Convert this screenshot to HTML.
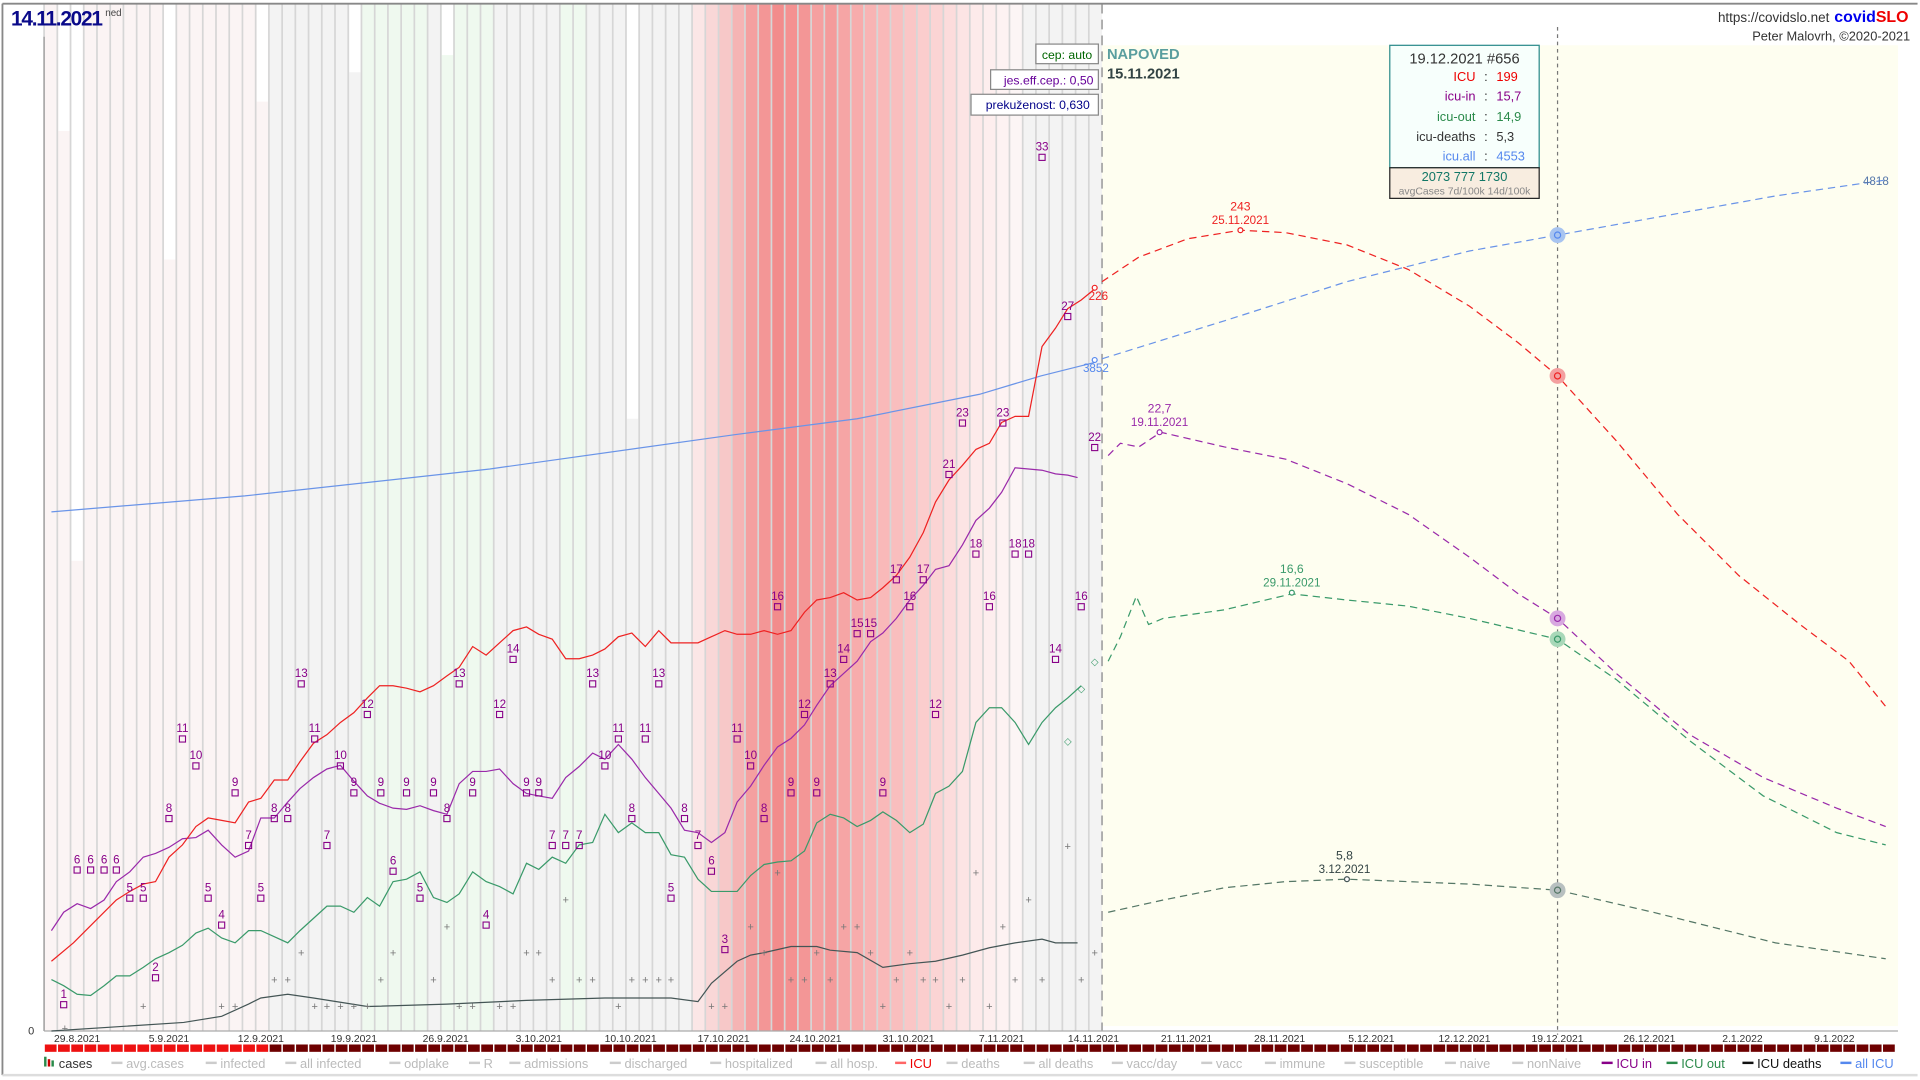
<!DOCTYPE html>
<html><head><meta charset="utf-8"><style>
html,body{margin:0;padding:0;background:#fff;overflow:hidden}
svg{display:block}
text{font-family:"Liberation Sans",sans-serif}
</style></head><body>
<svg id="s" width="1920" height="1080" viewBox="0 0 1568 882" xmlns="http://www.w3.org/2000/svg">
<rect x="0" y="0" width="1568" height="882" fill="#fff"/>
<g id="bars"></g>
<rect x="900" y="37" width="650" height="801" fill="#fefef0"/>
<line x1="900" y1="3" x2="900" y2="842" stroke="#aaa" stroke-width="1.5" stroke-dasharray="8,5"/>
<line x1="1272" y1="22" x2="1272" y2="845" stroke="#777" stroke-width="1" stroke-dasharray="3,3"/>
<line x1="2" y1="3" x2="1566" y2="3" stroke="#888" stroke-width="1.5"/>
<line x1="2" y1="3" x2="2" y2="878" stroke="#888" stroke-width="1.5"/>
<line x1="36" y1="30" x2="36" y2="842" stroke="#999" stroke-width="1"/>
<line x1="36" y1="842" x2="1550" y2="842" stroke="#aaa" stroke-width="1"/>
<g id="lines"></g>
<g id="marks"></g>
<text x="28" y="845" font-size="9" fill="#333" text-anchor="end">0</text>
<text x="9" y="21" font-size="17" font-weight="bold" fill="#0a0a8a" letter-spacing="-1">14.11.2021</text>
<text x="86" y="13" font-size="8" fill="#444">ned</text>
<text x="1494" y="18" font-size="11" fill="#333" text-anchor="end">https://covidslo.net</text>
<text x="1498" y="18" font-size="13" font-weight="bold" fill="#0000ee">covid<tspan fill="#ee0000">SLO</tspan></text>
<text x="1560" y="33" font-size="10.5" fill="#333" text-anchor="end">Peter Malovrh, ©2020-2021</text>
<rect x="846" y="36" width="51" height="16" fill="#fff" stroke="#888"/>
<text x="892" y="48" font-size="10" fill="#006600" text-anchor="end">cep: auto</text>
<rect x="809" y="57" width="88" height="16" fill="#fff" stroke="#888"/>
<text x="893" y="69" font-size="10" fill="#660099" text-anchor="end">jes.eff.cep.: 0,50</text>
<rect x="793" y="77" width="104" height="17" fill="#fff" stroke="#888"/>
<text x="890" y="89" font-size="10" fill="#000088" text-anchor="end">prekuženost: 0,630</text>
<text x="904" y="48" font-size="12" font-weight="bold" fill="#5a9e9e">NAPOVED</text>
<text x="904" y="64" font-size="12" font-weight="bold" fill="#334444">15.11.2021</text>
<rect x="1135" y="37" width="122" height="100" fill="#f7fffc" stroke="#2a8a8a"/>
<rect x="1135" y="137" width="122" height="25" fill="#f8ede0" stroke="#222"/>
<text x="1196" y="52" font-size="12" fill="#333" text-anchor="middle">19.12.2021 #656</text>
<g font-size="10.5">
<text x="1205" y="66" fill="#ee0000" text-anchor="end">ICU</text><text x="1212" y="66" fill="#333">:</text><text x="1222" y="66" fill="#ee0000">199</text>
<text x="1205" y="82" fill="#880088" text-anchor="end">icu-in</text><text x="1212" y="82" fill="#333">:</text><text x="1222" y="82" fill="#880088">15,7</text>
<text x="1205" y="99" fill="#2a8a4a" text-anchor="end">icu-out</text><text x="1212" y="99" fill="#333">:</text><text x="1222" y="99" fill="#2a8a4a">14,9</text>
<text x="1205" y="115" fill="#333" text-anchor="end">icu-deaths</text><text x="1212" y="115" fill="#333">:</text><text x="1222" y="115" fill="#333">5,3</text>
<text x="1205" y="131" fill="#5588ee" text-anchor="end">icu.all</text><text x="1212" y="131" fill="#333">:</text><text x="1222" y="131" fill="#5588ee">4553</text>
</g>
<text x="1196" y="148" font-size="10.5" fill="#117766" text-anchor="middle">2073  777  1730</text>
<text x="1196" y="159" font-size="8.5" fill="#888" text-anchor="middle">avgCases 7d/100k 14d/100k</text>
<g id="axis"></g>
<g id="legend" font-size="10.5"></g>
<line x1="2" y1="878" x2="1566" y2="878" stroke="#ddd" stroke-width="2"/>
</svg>
<script>
var NS="http://www.w3.org/2000/svg";
function el(p,t,a,txt){var e=document.createElementNS(NS,t);for(var k in a)e.setAttribute(k,a[k]);if(txt!==undefined)e.textContent=txt;document.getElementById(p).appendChild(e);return e;}
var D=10.8,X0=36;
function bg(i){
 if(i<=16) return "#fbf4f4";
 if(i<=23) return "#f3f3f3";
 if(i<=33) return (i==29?"#f3f3f3":"#eff9ef");
 if(i<=48) return (i==39||i==40?"#eff9ef":"#f3f3f3");
 if(i<=73){
  var c=[[251,230,230],[249,215,215],[247,200,200],[245,180,180],[244,160,160],[243,150,150],[242,140,140],[244,145,145],[243,150,150],[245,160,160],[244,155,155],[246,165,165],[247,172,172],[248,180,180],[249,185,185],[249,190,190],[250,198,198],[251,205,205],[251,212,212],[252,220,220],[252,228,228],[253,234,234],[253,238,238],[253,242,242],[252,245,245]][i-49];
  return "rgb("+c.join(",")+")";
 }
 return "#f3f3f3";
}
var white={1:107,2:458,9:212,16:83,23:59,30:45,44:342};
for(var i=0;i<80;i++){
 var x=X0+i*D;
 el("bars","rect",{x:x,y:3,width:D,height:839,fill:bg(i)});
 if(white[i]) el("bars","rect",{x:x+0.8,y:3,width:D-1.6,height:white[i]-3,fill:"#fff"});
 el("bars","line",{x1:x,y1:3,x2:x,y2:842,stroke:"#d6d6d6","stroke-width":1.4});
}
// bottom strip
for(var i=0;i<140;i++){var x=X0+i*D;if(x>1545)break;
 el("axis","rect",{x:x+0.6,y:853,width:D-1.2,height:6,fill:i<17?"#ee1111":"#6e0000"});}
var dates=[[63,"29.8.2021"],[138,"5.9.2021"],[213,"12.9.2021"],[289,"19.9.2021"],[364,"26.9.2021"],[440,"3.10.2021"],[515,"10.10.2021"],[591,"17.10.2021"],[666,"24.10.2021"],[742,"31.10.2021"],[818,"7.11.2021"],[893,"14.11.2021"],[969,"21.11.2021"],[1045,"28.11.2021"],[1120,"5.12.2021"],[1196,"12.12.2021"],[1272,"19.12.2021"],[1347,"26.12.2021"],[1423,"2.1.2022"],[1498,"9.1.2022"]];
dates.forEach(function(d){el("axis","text",{x:d[0],y:851,"font-size":8.5,fill:"#333","text-anchor":"middle"},d[1]);});
function pl(pts,col,w,dash){var a={points:pts.map(function(p){return p.join(",")}).join(" "),fill:"none",stroke:col,"stroke-width":w};if(dash)a["stroke-dasharray"]=dash;el("lines","polyline",a);}
pl([[42,418],[200,405],[400,383],[600,355],[700,342],[800,322],[850,307],[894,296]],"#6a94e8",1);
pl([[42,842],[150,835],[181,830],[203,820],[213,815],[235,812],[256,815],[300,822],[365,820],[430,817],[494,815],[548,815],[570,818],[581,803],[602,785],[613,780],[624,778],[646,773],[667,773],[678,776],[700,778],[721,790],[743,787],[764,785],[786,780],[808,774],[829,770],[851,767],[862,770],[880,770]],"#445555",1);
pl([[42,800],[52,805],[63,812],[74,813],[85,805],[95,797],[106,797],[117,790],[127,783],[138,778],[149,772],[160,762],[170,758],[181,766],[192,770],[203,760],[213,760],[224,765],[235,770],[245,760],[256,750],[267,740],[278,740],[289,745],[300,733],[310,740],[321,720],[332,718],[343,712],[354,733],[365,737],[375,730],[386,712],[397,720],[408,724],[419,730],[430,705],[440,710],[451,700],[462,705],[473,690],[484,688],[494,665],[505,680],[516,672],[527,680],[538,680],[548,698],[559,700],[570,718],[581,728],[592,728],[602,728],[613,715],[624,706],[635,704],[646,703],[657,695],[667,672],[678,665],[689,668],[700,675],[711,670],[721,663],[732,670],[743,680],[754,673],[764,648],[775,642],[786,630],[797,590],[808,578],[818,578],[829,590],[840,608],[851,590],[862,578],[872,570],[883,560]],"#3a9a6a",1);
pl([[42,760],[52,745],[63,738],[74,742],[85,735],[95,720],[106,712],[117,700],[127,697],[138,692],[149,685],[160,684],[170,678],[181,690],[192,700],[203,695],[213,668],[224,668],[235,655],[245,644],[256,635],[267,628],[278,625],[289,638],[300,650],[310,656],[321,660],[332,661],[343,658],[354,662],[365,665],[375,640],[386,630],[397,630],[408,628],[419,640],[430,648],[440,650],[451,652],[462,635],[473,626],[484,615],[494,620],[505,608],[516,620],[527,635],[538,648],[548,660],[559,678],[570,680],[581,688],[592,680],[602,655],[613,642],[624,625],[635,610],[646,603],[657,592],[667,576],[678,560],[689,550],[700,540],[711,524],[721,517],[732,505],[743,490],[754,478],[764,465],[775,462],[786,445],[797,425],[808,415],[818,402],[829,382],[840,383],[851,384],[862,387],[872,388],[880,390]],"#9a2aaa",1);
pl([[42,785],[60,770],[75,755],[95,735],[106,728],[117,722],[127,720],[138,700],[149,690],[160,675],[170,668],[181,670],[192,672],[203,655],[213,652],[224,637],[235,637],[245,622],[256,607],[267,600],[278,590],[289,582],[300,570],[310,560],[321,560],[332,562],[343,565],[354,560],[365,552],[375,545],[386,528],[397,535],[408,525],[419,515],[430,512],[440,518],[451,522],[462,538],[473,538],[484,535],[494,530],[505,520],[516,517],[527,528],[538,515],[548,525],[559,525],[570,525],[581,520],[592,515],[602,518],[613,518],[624,515],[635,518],[646,515],[657,500],[667,490],[678,488],[689,484],[700,490],[711,488],[721,480],[732,470],[743,455],[754,435],[764,410],[775,392],[786,380],[797,367],[808,362],[818,345],[829,340],[840,340],[851,283],[862,268],[872,252],[883,245],[894,236]],"#ee2222",1);
// forecasts
pl([[900,293],[1000,262],[1100,230],[1200,205],[1272,192],[1350,178],[1450,160],[1540,147]],"#6a94e8",1,"6,4");
pl([[905,745],[950,735],[1000,725],[1050,720],[1100,718],[1150,720],[1200,722],[1272,727],[1350,745],[1450,770],[1540,783]],"#557766",1,"6,4");
pl([[905,540],[915,520],[928,487],[938,510],[950,505],[1000,498],[1055,485],[1100,490],[1150,495],[1200,505],[1272,522],[1320,555],[1380,605],[1440,650],[1500,680],[1540,690]],"#3a9a6a",1,"6,4");
pl([[905,372],[915,362],[930,365],[948,353],[1000,365],[1050,375],[1100,395],[1150,420],[1200,455],[1240,485],[1272,505],[1320,550],[1380,600],[1440,635],[1500,660],[1540,675]],"#9a2aaa",1,"6,4");
pl([[900,230],[930,210],[970,195],[1013,188],[1050,190],[1100,200],[1150,220],[1200,250],[1240,280],[1272,307],[1320,360],[1370,420],[1420,470],[1470,510],[1510,540],[1540,577]],"#ee2222",1,"6,4");
// circles at 19.12
[[192,"#a8c4f0","#5588ee"],[307,"#f4a0a0","#ee2222"],[505,"#d8a8e0","#9a2aaa"],[522,"#a8d8b8","#3a9a6a"],[727,"#b8c0c0","#557766"]].forEach(function(c){
 el("marks","circle",{cx:1272,cy:c[0],r:6.5,fill:c[1],stroke:"none"});
 el("marks","circle",{cx:1272,cy:c[0],r:2.5,fill:"none",stroke:c[2],"stroke-width":1});});
// small peak markers
[[1013,188,"#ee2222"],[947,353,"#9a2aaa"],[1055,484,"#3a9a6a"],[1100,718,"#445555"],[894,235,"#ee2222"],[894,294,"#5588ee"]].forEach(function(c){el("marks","circle",{cx:c[0],cy:c[1],r:2,fill:"#fff",stroke:c[2]});});
function t(x,y,s,c,fs){el("marks","text",{x:x,y:y,"font-size":fs||10,fill:c,"text-anchor":"middle"},s);}
t(1013,172,"243","#ee2222");t(1013,183,"25.11.2021","#ee2222",9.5);
t(947,337,"22,7","#9a2aaa");t(947,348,"19.11.2021","#9a2aaa",9.5);
t(1055,468,"16,6","#3a9a6a");t(1055,479,"29.11.2021","#3a9a6a",9.5);
t(1098,702,"5,8","#334444");t(1098,713,"3.12.2021","#334444",9.5);
t(897,245,"226","#ee2222",9.5);t(895,304,"3852","#5588ee",9.5);t(1532,151,"4818","#5577aa",9.5);
// purple value labels
var lab=[[52,815,1],[127,793,2],[63,705,6],[74,705,6],[85,705,6],[95,705,6],[106,728,5],[117,728,5],[138,663,8],[149,598,11],[160,620,10],[170,728,5],[181,750,4],[192,642,9],[203,685,7],[213,728,5],[224,663,8],[235,663,8],[246,553,13],[257,598,11],[267,685,7],[278,620,10],[289,642,9],[300,578,12],[311,642,9],[321,706,6],[332,642,9],[343,728,5],[354,642,9],[365,663,8],[375,553,13],[386,642,9],[397,750,4],[408,578,12],[419,533,14],[430,642,9],[440,642,9],[451,685,7],[462,685,7],[473,685,7],[484,553,13],[494,620,10],[505,598,11],[516,663,8],[527,598,11],[538,553,13],[548,728,5],[559,663,8],[570,685,7],[581,706,6],[592,770,3],[602,598,11],[613,620,10],[624,663,8],[635,490,16],[646,642,9],[657,578,12],[667,642,9],[678,553,13],[689,533,14],[700,512,15],[711,512,15],[721,642,9],[732,468,17],[743,490,16],[754,468,17],[764,578,12],[775,382,21],[786,340,23],[797,447,18],[808,490,16],[819,340,23],[829,447,18],[840,447,18],[862,533,14],[851,123,33],[872,253,27],[883,490,16],[894,360,22]];
lab.forEach(function(l){el("marks","text",{x:l[0],y:l[1],"font-size":9.5,fill:"#880088","text-anchor":"middle"},""+l[2]);
 el("marks","rect",{x:l[0]-2.5,y:l[1]+3,width:5,height:5,fill:"none",stroke:"#880088","stroke-width":0.9});});
var pm=[[53,840],[117,822],[181,822],[192,822],[224,800],[235,800],[246,778],[257,822],[267,822],[278,822],[289,822],[300,822],[311,800],[321,778],[354,800],[365,757],[375,822],[386,822],[408,822],[419,822],[430,778],[440,778],[451,800],[462,735],[473,800],[484,800],[505,822],[516,800],[527,800],[538,800],[548,800],[581,822],[592,822],[613,757],[624,778],[635,713],[646,800],[657,800],[667,778],[678,800],[689,757],[700,757],[711,778],[721,822],[732,800],[743,778],[754,800],[764,800],[775,822],[786,800],[797,713],[808,822],[819,757],[829,800],[840,735],[851,800],[872,691],[883,800],[894,778]];
pm.forEach(function(p){el("marks","text",{x:p[0],y:p[1]+3,"font-size":9,fill:"#777","text-anchor":"middle"},"+");});
[[883,562],[872,605],[894,540]].forEach(function(p){el("marks","text",{x:p[0],y:p[1]+3,"font-size":8,fill:"#3a9a6a","text-anchor":"middle"},"◇");});
// legend
var lg=[[48,"cases","#333"],[103,"avg.cases","#bbb"],[180,"infected","#bbb"],[245,"all infected","#bbb"],[330,"odplake","#bbb"],[395,"R","#bbb"],[428,"admissions","#bbb"],[510,"discharged","#bbb"],[592,"hospitalized","#bbb"],[678,"all hosp.","#bbb"],[743,"ICU","#ee0000"],[785,"deaths","#bbb"],[848,"all deaths","#bbb"],[920,"vacc/day","#bbb"],[993,"vacc","#bbb"],[1045,"immune","#bbb"],[1110,"susceptible","#bbb"],[1192,"naive","#bbb"],[1247,"nonNaive","#bbb"],[1320,"ICU in","#880088"],[1373,"ICU out","#2a8a4a"],[1435,"ICU deaths","#111"],[1515,"all ICU","#5588ee"]];
lg.forEach(function(l,k){
 if(k==0){el("legend","rect",{x:36,y:863,width:2,height:8,fill:"#2a8a4a"});el("legend","rect",{x:39,y:865,width:2,height:6,fill:"#c00"});el("legend","rect",{x:42,y:866,width:2,height:5,fill:"#2a8a4a"});}
 else el("legend","rect",{x:l[0]-12,y:867,width:9,height:2,fill:l[2]=="#bbb"?"#ccc":(l[2]=="#ee0000"?"#ff6666":l[2])});
 el("legend","text",{x:l[0],y:872,fill:l[2]},l[1]);});
</script>
</body></html>
